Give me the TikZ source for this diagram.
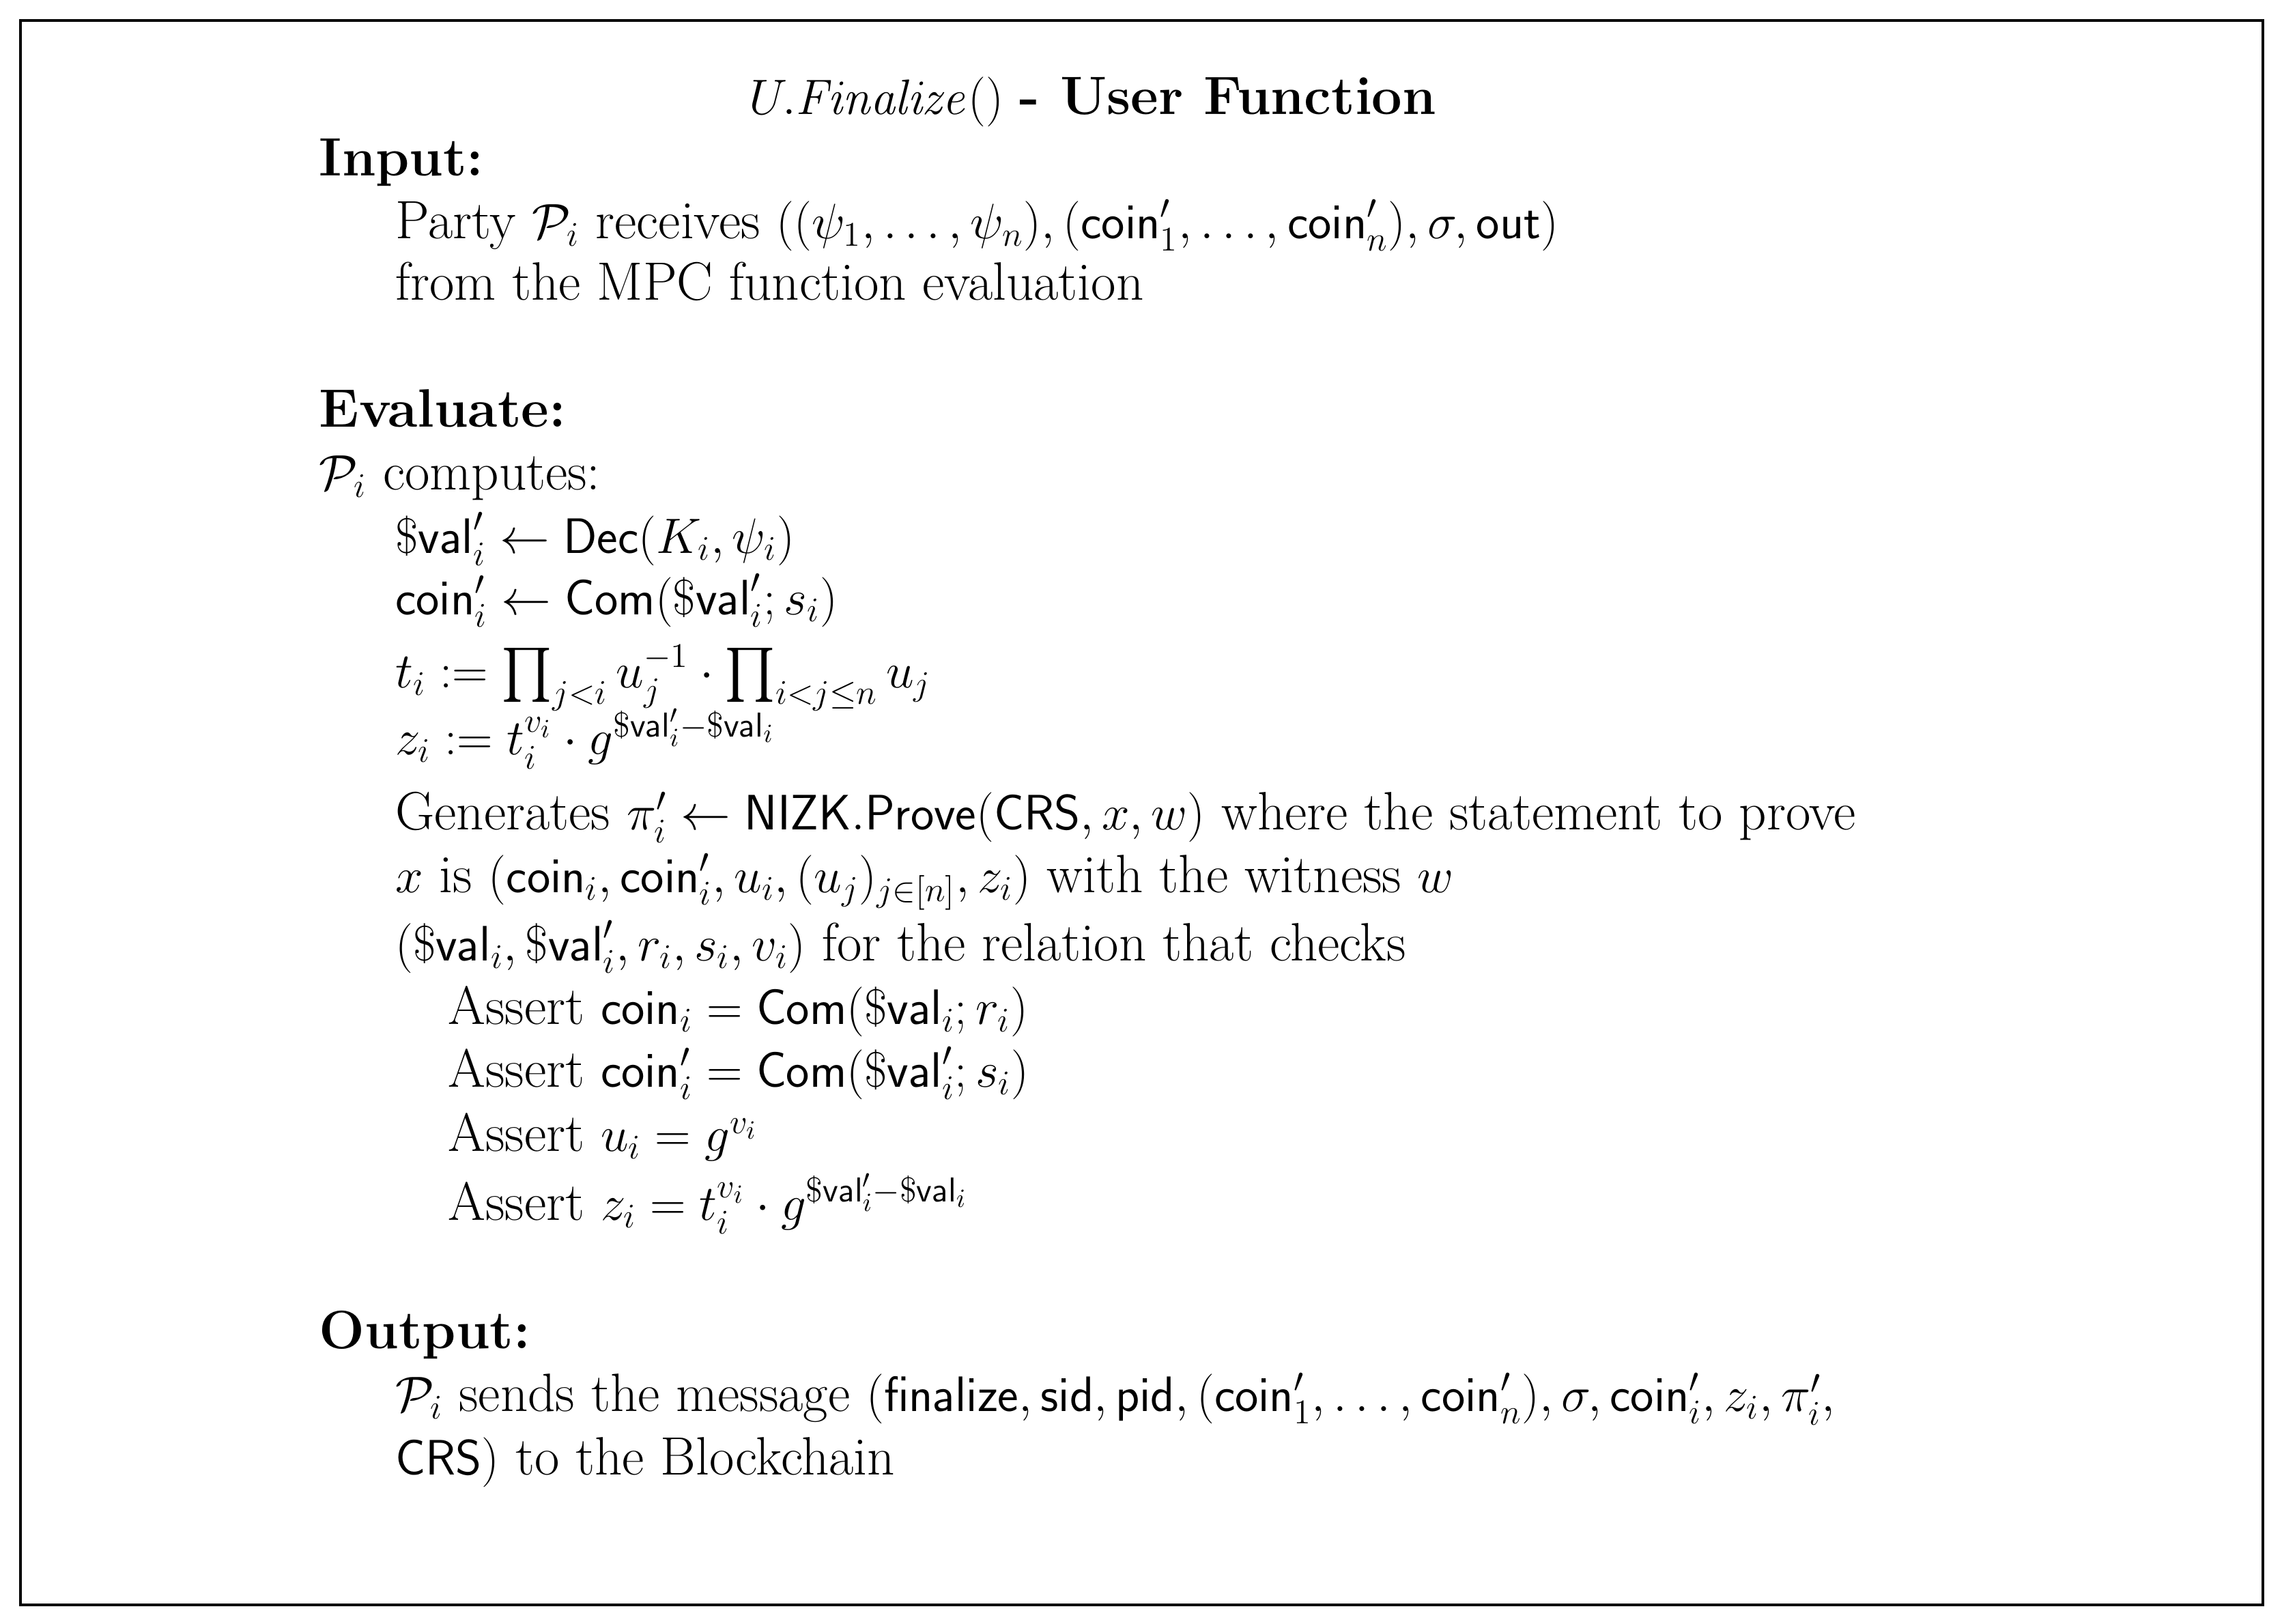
\documentclass[tikz,border=0pt]{standalone}
\usepackage{amsmath,amssymb}
\begin{document}
\begin{tikzpicture}[x=0.02143cm,y=-0.02143cm,
  t/.style={anchor=base west,inner sep=0pt,font=\fontsize{22.5}{26}\selectfont}]
\useasboundingbox (0,0) rectangle (1560,1110);
\draw[line width=1.2pt] (14,14) rectangle (1547,1097);
\newcommand{\sv}{\$\mathsf{val}}
\newcommand{\cn}{\mathsf{coin}}
\node[t,anchor=base] (title) at (747,78) {$U.\mathit{Finalize}()$ \textbf{- User Function}};
\node[t] (in) at (218,120) {\textbf{Input:}};
\node[t] (l1) at (270,163) {Party $\mathcal{P}_i$ receives $((\psi_1,\ldots,\psi_n),(\cn'_1,\ldots,\cn'_n),\sigma,\mathsf{out})$};
\node[t] (l2) at (270,205) {from the MPC function evaluation};
\node[t] (ev) at (218,292) {\textbf{Evaluate:}};
\node[t] (l3) at (218,335) {$\mathcal{P}_i$ computes:};
\node[t] (l4) at (270,378) {$\sv'_i \leftarrow \mathsf{Dec}(K_i,\psi_i)$};
\node[t] (l5) at (270,420) {$\cn'_i \leftarrow \mathsf{Com}(\sv'_i;s_i)$};
\node[t] (l6) at (270,470) {$t_i := \prod_{j<i} u_j^{-1}\cdot\prod_{i<j\le n} u_j$};
\node[t] (l7) at (270,516) {$z_i := t_i^{v_i}\cdot g^{\sv'_i-\sv_i}$};
\node[t] (l8) at (270,567) {Generates $\pi'_i \leftarrow \mathsf{NIZK.Prove}(\mathsf{CRS},x,w)$ where the statement to prove};
\node[t] (l9) at (270,610) {$x$ is $(\cn_i,\cn'_i,u_i,(u_j)_{j\in[n]},z_i)$ with the witness $w$};
\node[t] (l10) at (270,657) {$(\sv_i,\sv'_i,r_i,s_i,v_i)$ for the relation that checks};
\node[t] (a1) at (306,700) {Assert $\cn_i=\mathsf{Com}(\sv_i;r_i)$};
\node[t] (a2) at (306,743) {Assert $\cn'_i=\mathsf{Com}(\sv'_i;s_i)$};
\node[t] (a3) at (306,787) {Assert $u_i=g^{v_i}$};
\node[t] (a4) at (306,834) {Assert $z_i=t_i^{v_i}\cdot g^{\sv'_i-\sv_i}$};
\node[t] (out) at (218,922) {\textbf{Output:}};
\node[t] (o1) at (270,965) {$\mathcal{P}_i$ sends the message $(\mathsf{finalize},\mathsf{sid},\mathsf{pid},(\cn'_1,\ldots,\cn'_n),\sigma,\cn'_i,z_i,\pi'_i,$};
\node[t] (o2) at (270,1008) {$\mathsf{CRS})$ to the Blockchain};
\end{tikzpicture}
\end{document}
